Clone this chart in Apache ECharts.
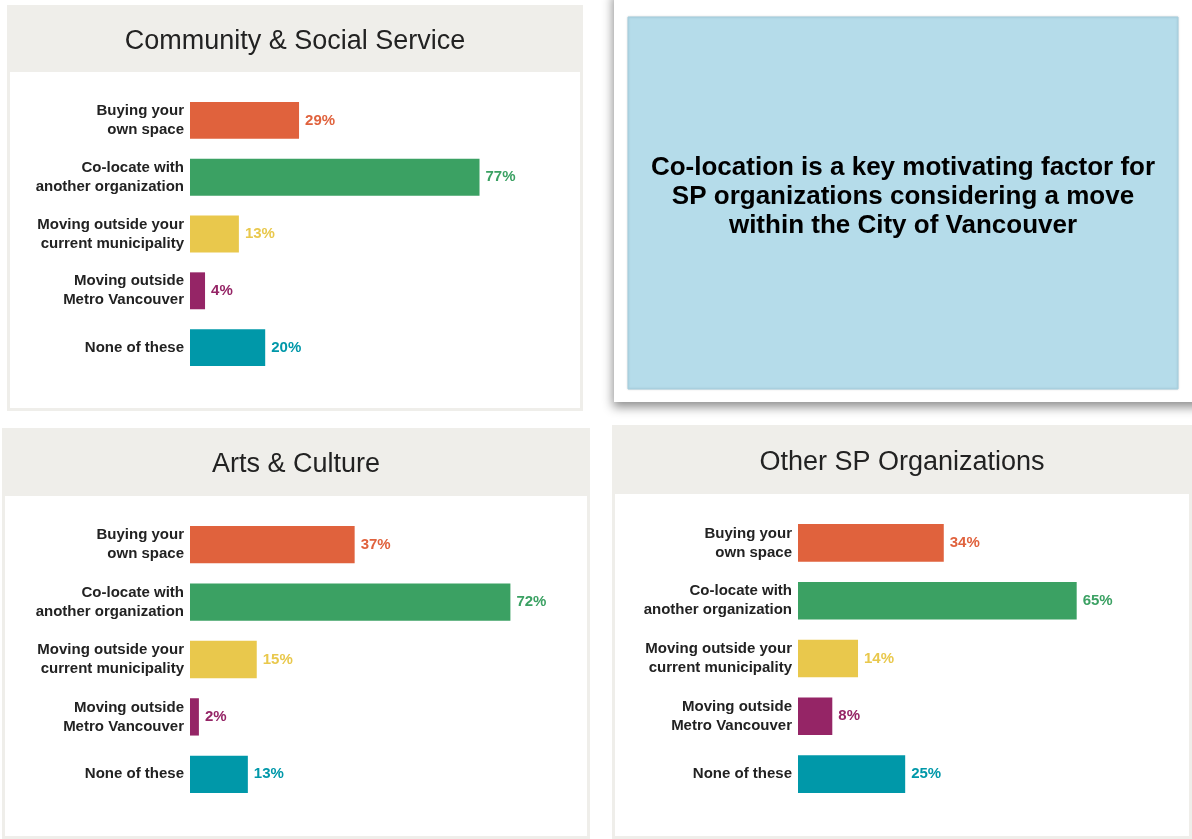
<!DOCTYPE html>
<html>
<head>
<meta charset="utf-8">
<script src="https://cdn.jsdelivr.net/npm/echarts@6/dist/echarts.min.js"></script>
<style>
  html, body { margin: 0; padding: 0; background: #ffffff; }
  #chart { width: 1192px; height: 839px; }
</style>
</head>
<body>
<div id="chart"></div>
<script>
// 数据
const categories = [
  'Buying your\nown space',
  'Co-locate with\nanother organization',
  'Moving outside your\ncurrent municipality',
  'Moving outside\nMetro Vancouver',
  'None of these'
];
const communityValues = [29, 77, 13, 4, 20];
const artsValues = [37, 72, 15, 2, 13];
const otherValues = [34, 65, 14, 8, 25];
const barColors = ['#e0623d', '#3ba163', '#e9c84c', '#952566', '#0098a9'];
const panelTitles = ['Community & Social Service', 'Arts & Culture', 'Other SP Organizations'];
const noteText = 'Co-location is a key motivating factor for\nSP organizations considering a move\nwithin the City of Vancouver';

const FONT = '"Liberation Sans", Arial, sans-serif';

// 每个面板的布局
const panels = [
  { x: 7, y: 5, w: 576, h: 406, band: 67, titleY: 42, grid: { left: 190, top: 92, width: 376, height: 284 }, max: 100 },
  { x: 2, y: 428, w: 588, h: 411, band: 68, titleY: 465, grid: { left: 190, top: 516, width: 445, height: 287 }, max: 100 },
  { x: 612, y: 425, w: 580, h: 414, band: 69, titleY: 463, grid: { left: 798, top: 514, width: 343, height: 289 }, max: 80 }
];
const seriesValues = [communityValues, artsValues, otherValues];

let graphics = [];
panels.forEach((p, i) => {
  graphics.push({ type: 'rect', z: 0, shape: { x: p.x, y: p.y, width: p.w, height: p.h }, style: { fill: '#efeeea' } });
  graphics.push({ type: 'rect', z: 1, shape: { x: p.x + 3, y: p.y + p.band, width: p.w - 6, height: p.h - p.band - 3 }, style: { fill: '#ffffff' } });
  graphics.push({
    type: 'text', z: 10, x: p.x + p.w / 2, y: p.titleY,
    style: { text: panelTitles[i], font: '27px ' + FONT, fill: '#222222', align: 'center', verticalAlign: 'middle' }
  });
});

// 右上角提示卡片
graphics.push({
  type: 'rect', z: 1, shape: { x: 614, y: -10, width: 600, height: 412 },
  style: { fill: '#ffffff', shadowBlur: 10, shadowColor: 'rgba(0,0,0,0.45)', shadowOffsetY: 5, shadowOffsetX: -1 }
});
graphics.push({
  type: 'rect', z: 2, shape: { x: 628, y: 17, width: 550, height: 372 },
  style: { fill: '#b5dcea', stroke: '#a6d0e0', lineWidth: 1, shadowBlur: 2, shadowColor: 'rgba(0,0,0,0.15)' }
});
graphics.push({
  type: 'text', z: 10, x: 903, y: 197,
  style: { text: noteText, font: 'bold 26px ' + FONT, fill: '#000000', align: 'center', verticalAlign: 'middle', lineHeight: 29 }
});

const chart = echarts.init(document.getElementById('chart'));

const option = {
  animation: false,
  graphic: graphics,
  grid: panels.map(p => Object.assign({ containLabel: false, z: 5 }, p.grid)),
  xAxis: panels.map((p, i) => ({
    type: 'value', gridIndex: i, min: 0, max: p.max, show: false
  })),
  yAxis: panels.map((p, i) => ({
    type: 'category', gridIndex: i, inverse: true, data: categories, z: 10,
    axisLine: { show: false }, axisTick: { show: false }, splitLine: { show: false },
    axisLabel: {
      color: '#222222', fontFamily: FONT, fontWeight: 'bold', fontSize: 15,
      lineHeight: 19, margin: 6, align: 'right'
    }
  })),
  series: seriesValues.map((vals, i) => ({
    type: 'bar', xAxisIndex: i, yAxisIndex: i, z: 5,
    barCategoryGap: '35%',
    data: vals.map((v, j) => ({
      value: v,
      itemStyle: { color: barColors[j] },
      label: { color: barColors[j] }
    })),
    label: {
      show: true, position: 'right', distance: 6, formatter: '{c}%',
      fontFamily: FONT, fontWeight: 'bold', fontSize: 15
    }
  }))
};

chart.setOption(option);
</script>
</body>
</html>
